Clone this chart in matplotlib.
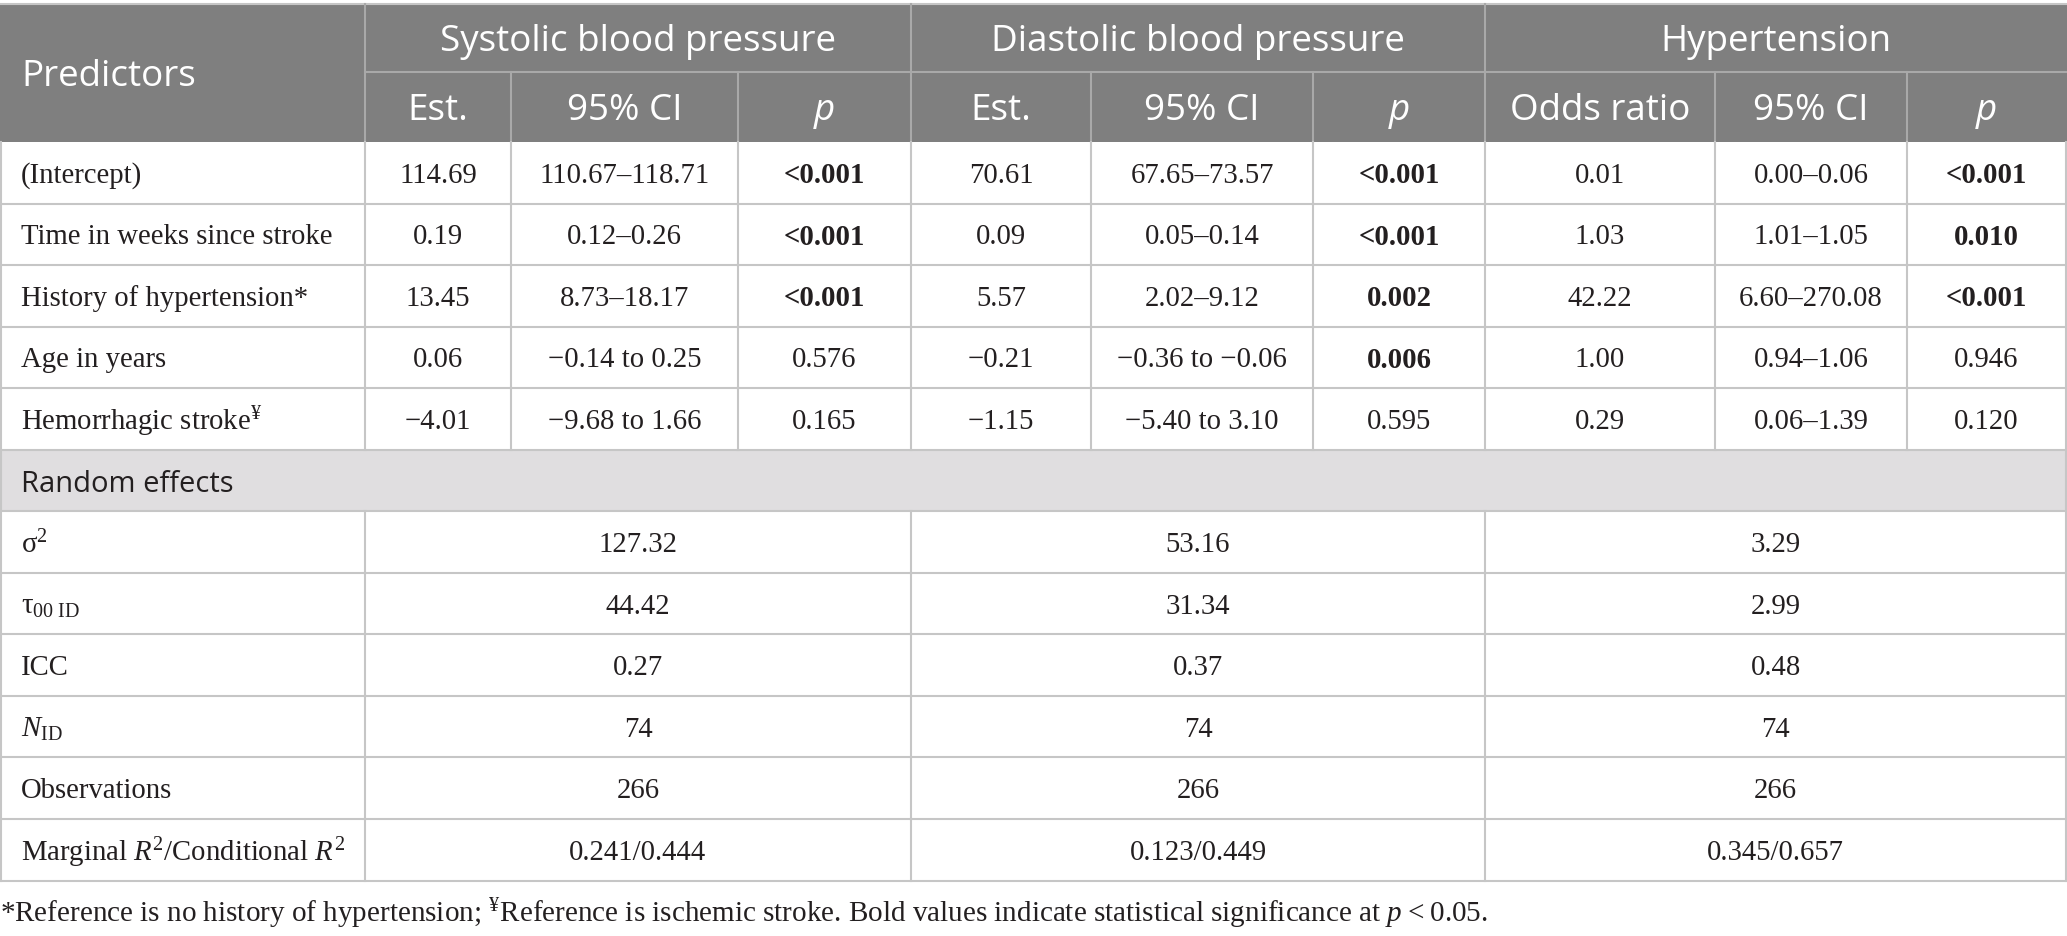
import matplotlib
matplotlib.use("Agg")
import matplotlib.pyplot as plt
from matplotlib.patches import Rectangle

plt.rcParams['mathtext.fontset'] = 'custom'
plt.rcParams['mathtext.rm'] = 'Liberation Serif'
plt.rcParams['mathtext.it'] = 'Liberation Serif:italic'
plt.rcParams['mathtext.bf'] = 'Liberation Serif:bold'

# ---------------- data ----------------
groups = ["Systolic blood pressure", "Diastolic blood pressure", "Hypertension"]
sub_headers = ["Est.", "95% CI", "p", "Est.", "95% CI", "p", "Odds ratio", "95% CI", "p"]

predictors = ["(Intercept)", "Time in weeks since stroke", "History of hypertension*",
              "Age in years", "Hemorrhagic stroke$^{\\mathrm{¥}}$"]
sbp_est = ["114.69", "0.19", "13.45", "0.06", "−4.01"]
sbp_ci = ["110.67–118.71", "0.12–0.26", "8.73–18.17", "−0.14 to 0.25", "−9.68 to 1.66"]
sbp_p = ["<0.001", "<0.001", "<0.001", "0.576", "0.165"]
dbp_est = ["70.61", "0.09", "5.57", "−0.21", "−1.15"]
dbp_ci = ["67.65–73.57", "0.05–0.14", "2.02–9.12", "−0.36 to −0.06", "−5.40 to 3.10"]
dbp_p = ["<0.001", "<0.001", "0.002", "0.006", "0.595"]
htn_or = ["0.01", "1.03", "42.22", "1.00", "0.29"]
htn_ci = ["0.00–0.06", "1.01–1.05", "6.60–270.08", "0.94–1.06", "0.06–1.39"]
htn_p = ["<0.001", "0.010", "<0.001", "0.946", "0.120"]

random_title = "Random effects"
random_labels = ["σ$^{\\mathrm{2}}$", "τ$_{\\mathrm{00\\ ID}}$", "ICC", "$\\mathit{N}_{\\mathrm{ID}}$",
                 "Observations", "Marginal $\\mathit{R}^{\\mathrm{2}}$/Conditional $\\mathit{R}^{\\mathrm{2}}$"]
sbp_random = ["127.32", "44.42", "0.27", "74", "266", "0.241/0.444"]
dbp_random = ["53.16", "31.34", "0.37", "74", "266", "0.123/0.449"]
htn_random = ["3.29", "2.99", "0.48", "74", "266", "0.345/0.657"]

footnote = ("*Reference is no history of hypertension; $^{\\mathrm{¥}}$Reference is ischemic stroke. "
            "Bold values indicate statistical significance at $\\mathit{p}$\u2009<\u20090.05.")

# ---------------- layout (pixels) ----------------
W, H = 2067, 936
fig = plt.figure(figsize=(W / 100, H / 100), dpi=100)
ax = fig.add_axes([0, 0, 1, 1])
ax.set_xlim(0, W)
ax.set_ylim(H, 0)
ax.axis('off')

col_x = [0, 365, 511, 738, 911, 1091, 1313, 1485, 1715, 1907, 2066]
group_x = [365, 911, 1485, 2066]
head_top, head_mid, head_bot = 4, 72, 142
row_h = 61.55
n_pred = len(predictors)
n_rand = len(random_labels)
table_bot = head_bot + row_h * (n_pred + 1 + n_rand)

HEAD_BG = "#7f7f7f"
HEAD_LINE = "#a9a9a9"
GRID = "#c6c6c6"
RAND_BG = "#e0dee0"
TXT = "#231f20"

SANS = "Open Sans"
SERIF = "Liberation Serif"
FS_HEAD = 26.5
FS_BODY = 20.7
FS_RAND = 21
FS_FOOT = 21
DY_BODY = 3
DY_HEAD = 4

# header background
ax.add_patch(Rectangle((0, head_top), W, head_bot - head_top, facecolor=HEAD_BG, edgecolor='none'))
ax.plot([0, W], [head_top, head_top], color=GRID, lw=1.5)
ax.plot([col_x[1], W], [head_mid, head_mid], color=HEAD_LINE, lw=1.5)
for x in group_x[:-1]:
    ax.plot([x, x], [head_top, head_bot], color=HEAD_LINE, lw=1.5)
for i in range(1, len(col_x) - 1):
    if col_x[i] not in group_x:
        ax.plot([col_x[i], col_x[i]], [head_mid, head_bot], color=HEAD_LINE, lw=1.5)

ax.text(21, (head_top + head_bot) / 2 + DY_HEAD, "Predictors", color='white', fontsize=FS_HEAD,
        family=SANS, ha='left', va='center')
for g, name in enumerate(groups):
    cx = (group_x[g] + group_x[g + 1]) / 2
    ax.text(cx, (head_top + head_mid) / 2 + DY_HEAD, name, color='white', fontsize=FS_HEAD,
            family=SANS, ha='center', va='center')
for j, name in enumerate(sub_headers):
    cx = (col_x[j + 1] + col_x[j + 2]) / 2
    ax.text(cx, (head_mid + head_bot) / 2 + DY_HEAD, name, color='white', fontsize=FS_HEAD,
            family=SANS, ha='center', va='center', style='italic' if name == 'p' else 'normal')

# predictor rows
cols = [sbp_est, sbp_ci, sbp_p, dbp_est, dbp_ci, dbp_p, htn_or, htn_ci, htn_p]
p_cols = {2, 5, 8}


def is_sig(s):
    if s.startswith("<"):
        return True
    return float(s) < 0.05


for r in range(n_pred):
    y0 = head_bot + r * row_h
    yc = y0 + row_h / 2 + DY_BODY
    ax.text(21, yc, predictors[r], color=TXT, fontsize=FS_BODY, family=SERIF, ha='left', va='center')
    for j, col in enumerate(cols):
        cx = (col_x[j + 1] + col_x[j + 2]) / 2
        bold = (j in p_cols) and is_sig(col[r])
        ax.text(cx, yc, col[r], color=TXT, fontsize=FS_BODY, family=SERIF, ha='center', va='center',
                weight='bold' if bold else 'normal')
    ax.plot([0, W], [y0 + row_h, y0 + row_h], color=GRID, lw=1.5)
    for x in col_x[1:-1]:
        ax.plot([x, x], [y0, y0 + row_h], color=GRID, lw=1.5)

# random effects title row
y0 = head_bot + n_pred * row_h
ax.add_patch(Rectangle((0, y0), W, row_h, facecolor=RAND_BG, edgecolor='none'))
ax.text(21, y0 + row_h / 2 + DY_HEAD, random_title, color=TXT, fontsize=FS_RAND, family=SANS,
        ha='left', va='center')
ax.plot([0, W], [y0 + row_h, y0 + row_h], color=GRID, lw=1.5)

rcols = [sbp_random, dbp_random, htn_random]
for r in range(n_rand):
    y0 = head_bot + (n_pred + 1 + r) * row_h
    yc = y0 + row_h / 2 + DY_BODY
    ax.text(21, yc, random_labels[r], color=TXT, fontsize=FS_BODY, family=SERIF, ha='left', va='center')
    for g, col in enumerate(rcols):
        cx = (group_x[g] + group_x[g + 1]) / 2
        ax.text(cx, yc, col[r], color=TXT, fontsize=FS_BODY, family=SERIF, ha='center', va='center')
    ax.plot([0, W], [y0 + row_h, y0 + row_h], color=GRID, lw=1.5)
    for x in group_x[:-1]:
        ax.plot([x, x], [y0, y0 + row_h], color=GRID, lw=1.5)

# outer borders
ax.plot([1, 1], [head_bot, table_bot], color=GRID, lw=1.5)
ax.plot([W - 1, W - 1], [head_bot, table_bot], color=GRID, lw=1.5)

ax.text(0, 914, footnote, color=TXT, fontsize=FS_FOOT, family=SERIF, ha='left', va='center')

fig.savefig("out.png", dpi=100, facecolor='white')
